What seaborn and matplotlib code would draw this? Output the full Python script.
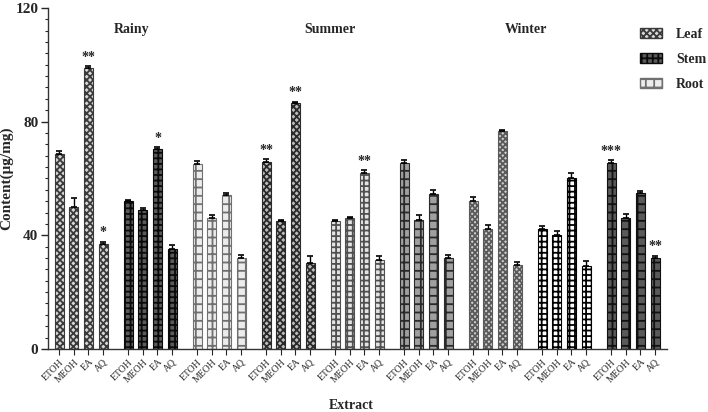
import numpy as np
import pandas as pd
import matplotlib
matplotlib.use("Agg")
import matplotlib.pyplot as plt
import seaborn as sns
from matplotlib.patches import Patch
from matplotlib.ticker import MultipleLocator

extracts = ["ETOH", "MEOH", "EA", "AQ"]
groups = ["Rainy-Leaf", "Rainy-Stem", "Rainy-Root",
          "Summer-Leaf", "Summer-Stem", "Summer-Root",
          "Winter-1", "Winter-2", "Winter-3"]
seasons = ["Rainy", "Summer", "Winter"]

g1 = [68.5, 50.0, 99.0, 37.0]
g2 = [52.0, 49.0, 70.3, 35.0]
g3 = [65.0, 46.0, 54.0, 32.0]
g4 = [65.7, 45.0, 86.5, 30.3]
g5 = [45.0, 46.0, 62.0, 31.2]
g6 = [65.4, 45.5, 54.5, 32.0]
g7 = [52.0, 42.2, 76.8, 29.5]
g8 = [42.3, 40.0, 60.3, 29.3]
g9 = [65.4, 46.0, 55.0, 32.0]
values = [g1, g2, g3, g4, g5, g6, g7, g8, g9]

e1 = [1.0, 3.0, 0.5, 0.8]
e2 = [0.5, 0.5, 0.8, 1.5]
e3 = [1.0, 1.0, 0.8, 1.2]
e4 = [1.2, 0.5, 0.5, 2.5]
e5 = [0.3, 0.5, 1.0, 1.5]
e6 = [1.0, 1.5, 1.5, 1.0]
e7 = [1.3, 1.5, 0.3, 1.2]
e8 = [0.8, 1.5, 1.5, 1.5]
e9 = [1.0, 1.5, 0.5, 0.8]
errors = [e1, e2, e3, e4, e5, e6, e7, e8, e9]

# significance marks: (group index, extract, text)
stars = [(0, "EA", "**"), (0, "AQ", "*"), (1, "EA", "*"),
         (3, "ETOH", "**"), (3, "EA", "**"), (4, "EA", "**"),
         (8, "ETOH", "***"), (8, "AQ", "**")]

legend_labels = ["Leaf", "Stem", "Root"]

# styles per group: (facecolor, edgecolor, hatch)
styles = [
    ("#d8d8d8", "#3a3a3a", "xxxxx"),
    ("#5a5a5a", "#0a0a0a", "+++"),
    ("#ececec", "#707070", "--||"),
    ("#bdbdbd", "#2a2a2a", "xxxxx"),
    ("#e4e4e4", "#505050", "+++"),
    ("#a0a0a0", "#2a2a2a", "--||"),
    ("#cfcfcf", "#5a5a5a", "xxxxxx"),
    ("#ffffff", "#000000", "+++"),
    ("#5a5a5a", "#111111", "--||"),
]

rows = []
for g, vals in zip(groups, values):
    for ex, v in zip(extracts, vals):
        rows.append({"group": g, "extract": ex, "value": v})
df = pd.DataFrame(rows)

sns.set_style("ticks")
plt.rcParams["font.family"] = ["Liberation Serif", "DejaVu Serif"]
plt.rcParams["hatch.linewidth"] = 1.3

fig = plt.figure(figsize=(7.08, 4.12), dpi=100)
ax = fig.add_axes([0.0678, 0.153, 0.8742, 0.828])

sns.barplot(data=df, x="group", y="value", hue="extract", order=groups,
            hue_order=extracts, width=0.85, gap=0.39, errorbar=None,
            legend=False, ax=ax)

centers = {}
for h, cont in enumerate(ax.containers):
    for gi, bar in enumerate(cont):
        fc, ec, ht = styles[gi]
        bar.set_facecolor(fc)
        bar.set_edgecolor(ec)
        bar.set_hatch(ht)
        bar.set_linewidth(0.8)
        centers[(gi, h)] = bar.get_x() + bar.get_width() / 2

xs, ys, es, labels = [], [], [], []
for gi in range(len(groups)):
    for h in range(len(extracts)):
        xs.append(centers[(gi, h)])
        ys.append(values[gi][h])
        es.append(errors[gi][h])
        labels.append(extracts[h])
ax.errorbar(xs, ys, yerr=[np.zeros(len(es)), es], fmt="none", ecolor="black",
            elinewidth=1.0, capsize=2.5, capthick=1.2, zorder=5)

for gi, ex, txt in stars:
    h = extracts.index(ex)
    ax.text(centers[(gi, h)], values[gi][h] + errors[gi][h] + 0.8, txt,
            ha="center", va="bottom", fontsize=10, fontweight="bold")

season_x = [0.73, 3.6, 6.45]
for sx, s in zip(season_x, seasons):
    ax.text(sx, 112.5, s, ha="center", va="center", fontsize=10,
            fontweight="bold")

ax.set_xticks(xs)
ax.set_xticklabels(labels, rotation=45, ha="right", rotation_mode="anchor",
                   fontsize=7)
ax.tick_params(axis="x", length=4, width=0.8, pad=2)
ax.set_xlim(-0.48, 8.49)
ax.set_ylim(0, 120)
ax.set_yticks([0, 40, 80, 120])
ax.yaxis.set_minor_locator(MultipleLocator(4))
ax.tick_params(axis="y", which="major", length=5, width=1, labelsize=11,
               pad=2)
ax.tick_params(axis="y", which="minor", length=2.5, width=0.8)
for lab in ax.get_yticklabels():
    lab.set_fontweight("bold")
ax.set_xlabel("Extract", fontsize=10, fontweight="bold")
ax.xaxis.set_label_coords(0.49, -0.147)
ax.set_ylabel("Content(μg/mg)", fontsize=11, fontweight="bold")
ax.yaxis.set_label_coords(-0.056, 0.5)
sns.despine(ax=ax)
for sp in ["left", "bottom"]:
    ax.spines[sp].set_linewidth(1.0)
    ax.spines[sp].set_color("#333333")

handles = [Patch(facecolor=styles[i][0], edgecolor=styles[i][1],
                 hatch=styles[i][2], label=legend_labels[i]) for i in range(3)]
leg = fig.legend(handles=handles, loc="upper left",
                 bbox_to_anchor=(0.900, 0.939), frameon=False,
                 prop={"weight": "bold", "size": 10}, handlelength=1.6,
                 handleheight=0.75, labelspacing=0.85, handletextpad=1.0,
                 borderaxespad=0, borderpad=0.2)

fig.savefig("out.png", dpi=100)
